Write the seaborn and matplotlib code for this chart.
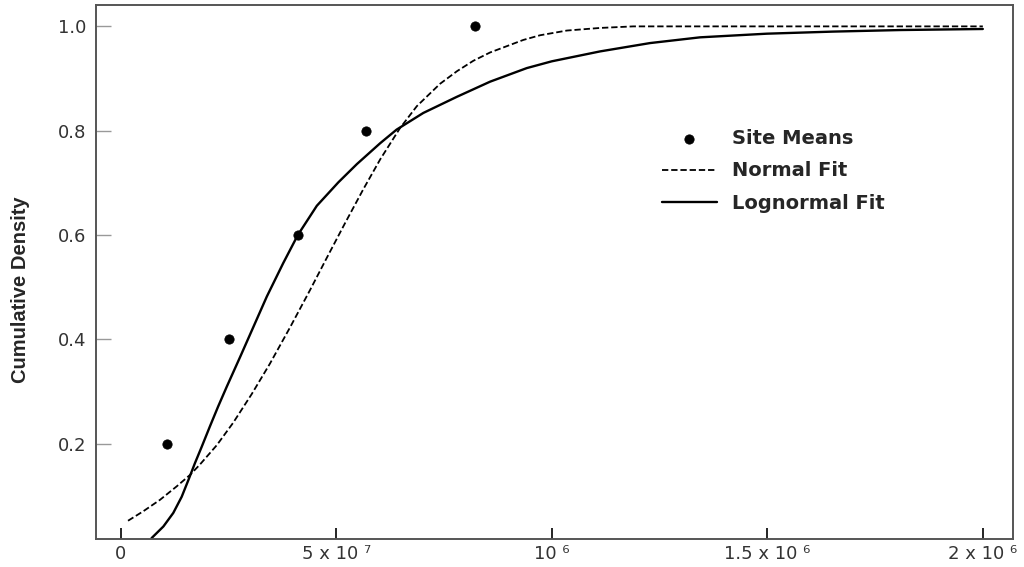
import pandas as pd
import seaborn as sns
import matplotlib.pyplot as plt
from matplotlib import font_manager

# site means (x in raw units, cumulative density)
site_x = [107000, 252000, 411000, 568000, 823000]
site_y = [0.2, 0.4, 0.6, 0.8, 1.0]

# normal fit curve
normal_x = [17000, 52000, 91000, 130000, 161000, 184000, 223000, 261000, 304000,
            346000, 393000, 439000, 478000, 520000, 563000, 602000, 648000, 687000,
            741000, 780000, 818000, 857000, 934000, 973000, 1035000, 1112000,
            1189000, 1500000, 2000000]
normal_y = [0.052, 0.070, 0.092, 0.118, 0.140, 0.160, 0.197, 0.240, 0.295,
            0.353, 0.423, 0.494, 0.556, 0.622, 0.688, 0.745, 0.805, 0.847,
            0.890, 0.914, 0.934, 0.950, 0.974, 0.983, 0.992, 0.997,
            1.000, 1.000, 1.000]

# lognormal fit curve
lognorm_x = [60000, 72000, 99000, 122000, 141500, 157000, 172000, 188000, 207000,
             226000, 246000, 277000, 308000, 339000, 377000, 411000, 455000, 505000,
             548000, 602000, 640000, 702000, 780000, 857000, 942000, 1000000,
             1112000, 1228000, 1344000, 1499000, 1653000, 1809000, 2000000]
lognorm_y = [0.000, 0.019, 0.041, 0.067, 0.098, 0.130, 0.162, 0.194, 0.233,
             0.271, 0.309, 0.366, 0.424, 0.482, 0.546, 0.600, 0.656, 0.701,
             0.736, 0.776, 0.802, 0.834, 0.865, 0.894, 0.920, 0.933,
             0.952, 0.968, 0.979, 0.986, 0.990, 0.993, 0.995]

xticks = [0, 500000, 1000000, 1500000, 2000000]
xtick_labels = ["0", "5 x 10 \u2077", "10 \u2076", "1.5 x 10 \u2076", "2 x 10 \u2076"]
yticks = [0.2, 0.4, 0.6, 0.8, 1.0]
ytick_labels = ["0.2", "0.4", "0.6", "0.8", "1.0"]

sites = pd.DataFrame({"x": site_x, "y": site_y})
normal = pd.DataFrame({"x": normal_x, "y": normal_y})
lognorm = pd.DataFrame({"x": lognorm_x, "y": lognorm_y})

sns.set_theme(style="white")
plt.rcParams["font.family"] = ["DejaVu Sans"]

# condensed bold for the y label if a narrow face is around
names = {f.name for f in font_manager.fontManager.ttflist}
if "Liberation Sans Narrow" in names:
    ylab_font, ylab_size = "Liberation Sans Narrow", 17
else:
    ylab_font, ylab_size = "Liberation Sans", 14.5

fig = plt.figure(figsize=(10.24, 5.67), dpi=100)
ax = fig.add_axes([96 / 1024, 1 - 539 / 567, (1013 - 96) / 1024, (539 - 5) / 567])

sns.lineplot(data=normal, x="x", y="y", ax=ax, color="black", lw=1.3,
             estimator=None, sort=False, label="Normal Fit")
ax.lines[-1].set_dashes((3.5, 1.6))
sns.lineplot(data=lognorm, x="x", y="y", ax=ax, color="black", lw=1.7,
             estimator=None, sort=False, label="Lognormal Fit")
sns.scatterplot(data=sites, x="x", y="y", ax=ax, color="black", s=45,
                marker="o", edgecolor="black", label="Site Means", zorder=3)

ax.set_xlim(-57300, 2070000)
ax.set_ylim(0.017, 1.041)
ax.set_xticks(xticks)
ax.set_xticklabels(xtick_labels)
ax.set_yticks(yticks)
ax.set_yticklabels(ytick_labels)
ax.set_xlabel("")
ax.set_ylabel("Cumulative Density", fontsize=ylab_size, fontweight="bold",
              family=[ylab_font, "DejaVu Sans"])
ax.yaxis.set_label_coords(-0.072, 0.466)

ax.tick_params(axis="x", direction="in", length=8, width=1.2, color="black",
               labelsize=13, labelcolor="#333333", pad=4, bottom=True)
ax.tick_params(axis="y", direction="in", length=11, width=1, color="#999999",
               labelsize=13, labelcolor="#333333", pad=7, left=True)
for side in ["left", "right", "top", "bottom"]:
    ax.spines[side].set_visible(True)
    ax.spines[side].set_color("#555555")
    ax.spines[side].set_linewidth(1.4)

handles, labels = ax.get_legend_handles_labels()
order = [labels.index("Site Means"), labels.index("Normal Fit"), labels.index("Lognormal Fit")]
ax.legend([handles[i] for i in order], [labels[i] for i in order],
          loc="upper left", bbox_to_anchor=(0.617, 0.768), frameon=False,
          borderpad=0, borderaxespad=0, handlelength=2.83, handletextpad=0.76,
          labelspacing=0.7, prop={"weight": "bold", "size": 14})

fig.savefig("out.png", dpi=100)
